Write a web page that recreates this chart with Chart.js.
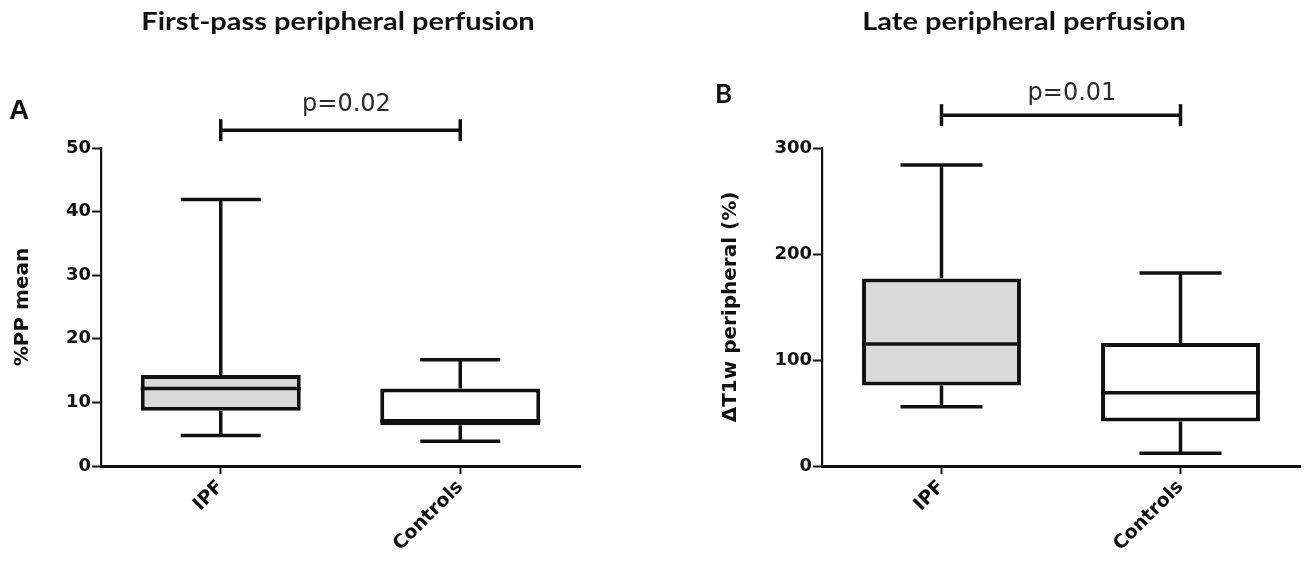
<!DOCTYPE html>
<html><head><meta charset="utf-8">
<script src="https://cdn.jsdelivr.net/npm/chart.js@4.4.1/dist/chart.umd.min.js"></script>
<style>
html,body{margin:0;padding:0;background:#fff;}
#wrap{position:relative;width:1313px;height:566px;overflow:hidden;background:#fff;}
.panel{position:absolute;top:0;height:566px;}
#p1{left:0;width:656px;} #p2{left:656px;width:657px;}
.title{position:absolute;top:6px;font-family:Lato,sans-serif;font-weight:700;font-size:25px;line-height:28px;color:#111;white-space:nowrap;transform:translateX(-50%) scaleX(1.16);z-index:2;}
.letter{position:absolute;font-weight:700;color:#111;z-index:2;}
</style></head>
<body><div id="wrap">
<div class="title" style="left:338px">First-pass peripheral perfusion</div>
<div class="title" style="left:1024px">Late peripheral perfusion</div>
<div class="letter" style="left:9px;top:96px;font-family:'Liberation Sans',sans-serif;font-size:28px;line-height:28px">A</div>
<div class="letter" style="left:715px;top:80px;font-family:Lato,sans-serif;font-size:26px;line-height:26px">B</div>
<div class="panel" id="p1"><canvas id="c1" width="656" height="566"></canvas></div>
<div class="panel" id="p2"><canvas id="c2" width="657" height="566"></canvas></div>
</div>
<script>
// ---- data ----
const categories = ['IPF', 'Controls'];
// Panel A: %PP mean (first-pass peripheral perfusion)
const ppMin    = [4.8, 3.9];
const ppQ1     = [8.7, 6.4];
const ppMedian = [12.2, 7.1];
const ppQ3     = [14.3, 12.2];
const ppMax    = [41.9, 16.7];
const ppTicks  = [0, 10, 20, 30, 40, 50];
const ppPValue = 'p=0.02';
// Panel B: ΔT1w peripheral (%) (late peripheral perfusion)
const t1Min    = [56, 12];
const t1Q1     = [76, 42];
const t1Median = [115, 69];
const t1Q3     = [177, 116];
const t1Max    = [284, 182];
const t1Ticks  = [0, 100, 200, 300];
const t1PValue = 'p=0.01';

const INK = '#111111';

function boxExtras(stats, style) {
  return {
    id: 'boxExtras',
    afterDatasetsDraw(chart) {
      const ctx = chart.ctx, x = chart.scales.x, y = chart.scales.y;
      const bars = chart.getDatasetMeta(0).data;
      ctx.save();
      ctx.strokeStyle = INK;
      ctx.lineWidth = style.lw;
      ctx.lineCap = 'butt';
      const seg = (x1, y1, x2, y2) => { ctx.beginPath(); ctx.moveTo(x1, y1); ctx.lineTo(x2, y2); ctx.stroke(); };
      categories.forEach((c, i) => {
        const cx = x.getPixelForValue(i);
        const half = bars[i].width / 2;
        const pMin = y.getPixelForValue(stats.min[i]);
        const pMax = y.getPixelForValue(stats.max[i]);
        const pQ1 = y.getPixelForValue(stats.q1[i]);
        const pQ3 = y.getPixelForValue(stats.q3[i]);
        const pMed = y.getPixelForValue(stats.median[i]);
        seg(cx, pQ1, cx, pMin);
        seg(cx, pQ3, cx, pMax);
        seg(cx - style.cap, pMin, cx + style.cap, pMin);
        seg(cx - style.cap, pMax, cx + style.cap, pMax);
        seg(cx - half, pMed, cx + half, pMed);
      });
      // significance bracket
      const bx1 = x.getPixelForValue(0), bx2 = x.getPixelForValue(1);
      const by = y.getPixelForValue(style.bracketAt);
      seg(bx1, by, bx2, by);
      seg(bx1, by - 11, bx1, by + 11);
      seg(bx2, by - 11, bx2, by + 11);
      ctx.fillStyle = '#2a2a2a';
      ctx.font = '24px "DejaVu Sans"';
      ctx.textAlign = 'center';
      ctx.textBaseline = 'alphabetic';
      ctx.fillText(stats.p, (bx1 + bx2) / 2 + style.pdx, by - style.pdy);
      ctx.restore();
    }
  };
}

function makeChart(id, stats, ticks, yTitle, lay) {
  return new Chart(document.getElementById(id), {
    type: 'bar',
    data: {
      labels: categories,
      datasets: [{
        data: categories.map((c, i) => [stats.q1[i], stats.q3[i]]),
        backgroundColor: ['#d9d9d9', '#ffffff'],
        borderColor: INK,
        borderWidth: 4,
        borderSkipped: false,
        categoryPercentage: 1,
        barPercentage: lay.barPct
      }]
    },
    options: {
      responsive: false,
      animation: false,
      events: [],
      layout: { padding: { top: 148, bottom: 0, left: lay.padL, right: lay.padR } },
      plugins: { legend: { display: false }, tooltip: { enabled: false }, title: { display: false } },
      scales: {
        x: {
          type: 'category',
          offset: true,
          grid: { offset: false, drawOnChartArea: false, drawTicks: true, tickLength: 8, tickWidth: 2, tickColor: INK },
          border: { display: true, color: INK, width: 3 },
          ticks: { color: INK, font: { family: 'DejaVu Sans', weight: 'bold', size: 19 }, minRotation: 45, maxRotation: 45, padding: 2 },
          afterFit(s) { s.height = 100; }
        },
        y: {
          min: ticks[0], max: ticks[ticks.length - 1],
          afterBuildTicks(s) { s.ticks = ticks.map(v => ({ value: v })); },
          grid: { drawOnChartArea: false, drawTicks: true, tickLength: 9, tickWidth: 2, tickColor: INK },
          border: { display: true, color: INK, width: 2.2 },
          ticks: { color: INK, font: { family: 'DejaVu Sans', weight: 'bold', size: 18 }, padding: 1 },
          title: { display: true, text: yTitle, color: INK, font: { family: 'DejaVu Sans', weight: 'bold', size: 20, lineHeight: 1.2 }, padding: { top: lay.titlePad, bottom: 0 } },
          afterFit(s) { s.width = lay.yW; }
        }
      }
    },
    plugins: [boxExtras(stats, lay)]
  });
}

makeChart('c1',
  { min: ppMin, q1: ppQ1, median: ppMedian, q3: ppQ3, max: ppMax, p: ppPValue },
  ppTicks, '%PP mean',
  { padL: 0, padR: 76, yW: 101, titlePad: 11, barPct: 0.668, lw: 3.5, cap: 40, bracketAt: 52.8, pdx: 6, pdy: 19 });

makeChart('c2',
  { min: t1Min, q1: t1Q1, median: t1Median, q3: t1Q3, max: t1Max, p: t1PValue },
  t1Ticks, 'ΔT1w peripheral (%)',
  { padL: 60, padR: 13, yW: 106, titlePad: 3, barPct: 0.665, lw: 3.5, cap: 41, bracketAt: 331, pdx: 11, pdy: 15 });
</script>
</body></html>
